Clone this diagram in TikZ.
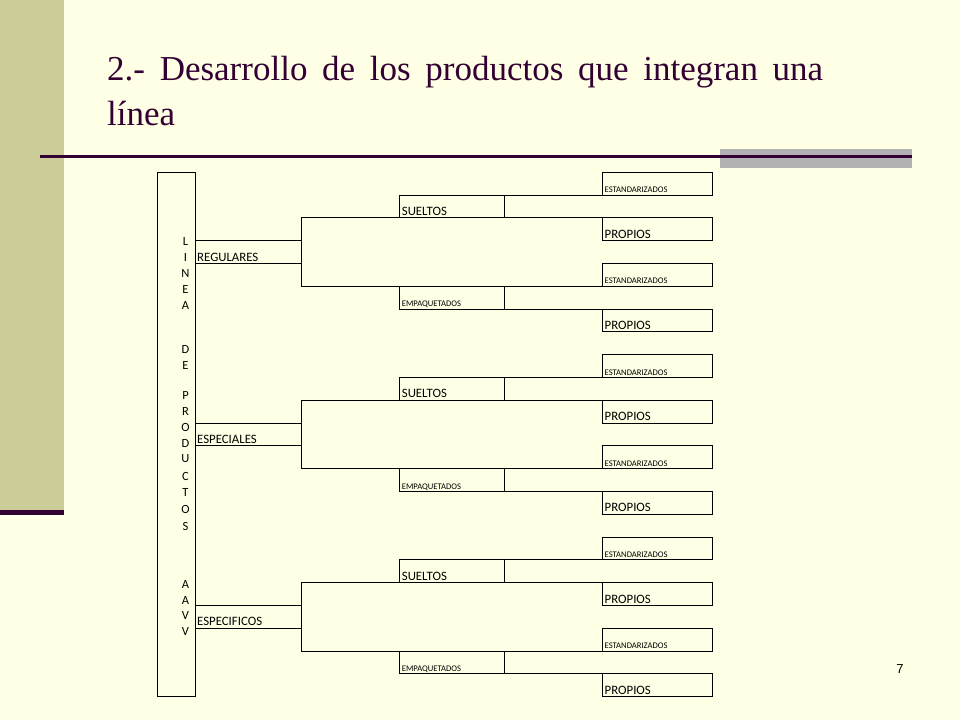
\documentclass[tikz,border=0pt]{standalone}
\usepackage{fontspec}
\setmainfont{Liberation Serif}
\newfontfamily\cellfont{Carlito}
\newfontfamily\numfont{Liberation Sans}
\usetikzlibrary{positioning}
\definecolor{slideBg}{RGB}{255,255,229}
\definecolor{bandOlive}{RGB}{204,204,153}
\definecolor{titlePurple}{RGB}{51,0,51}
\definecolor{barGray}{RGB}{178,178,178}
\tikzset{
    cell/.style={draw=black, line width=0.9pt},
    bigtext/.style={font=\cellfont\fontsize{12.8}{14}\selectfont, inner sep=0pt, anchor=base west},
    smalltext/.style={font=\cellfont\fontsize{8.6}{10}\selectfont, inner sep=0pt, anchor=base west},
    letter/.style={font=\cellfont\fontsize{12.5}{14}\selectfont, inner sep=0pt},
    titletext/.style={font=\fontsize{35}{45}\selectfont, text=titlePurple, inner sep=0pt, anchor=base west}
}

\begin{document}
\begin{tikzpicture}[x=1pt, y=-1pt]
                    % Slide background and left band
                    \useasboundingbox (0,0) rectangle (960,720);
                    \fill[slideBg] (0,0) rectangle (960,720);
                    \fill[bandOlive] (0,0) rectangle (64,510);
                    \fill[titlePurple] (0,510) rectangle (64,515);
                    
                    % Title and rule under it
                    \node[titletext] (titleA) at (107,80.5) {\hbox to 716pt{2.- Desarrollo de los productos que integran una}};
                    \node[titletext] (titleB) at ([yshift=-44.5pt]titleA.base west) {línea};
                    \fill[barGray] (720,149) rectangle (912,168);
                    \draw[titlePurple, line width=3pt] (40,156.5) -- (912,156.5);
                    
                    % Outer column with the vertical text
                    \draw[cell] (157.3,172.3) rectangle (195,696.7);
                    \foreach \ch/\yy in {L/241, I/257, N/273, E/289, A/305, D/349, E/365,
                                         P/395.5, R/411, O/427, D/443, U/459, C/476, T/492, O/509, S/526,
                                         A/584, A/600, V/615, V/631}
                        \node[letter] (ltr\yy) at (185.5,\yy) {\ch};
                    
                    % One block of rows per kind of line
                    \foreach \grp/\b in {REGULARES/0, ESPECIALES/8, ESPECIFICOS/16} {
                        \pgfmathsetmacro{\gshift}{\b*22.8}
                        \begin{scope}[yshift=-\gshift pt]
                            \foreach \r in {172.3, 217.9, 263.5, 309.1}
                                \draw[cell] (602.5,\r) rectangle (712.7,{\r+22.8});
                            \draw[cell] (399.7,217.9) -- (399.7,195.1) -- (712.7,195.1);
                            \draw[cell] (504.4,195.1) -- (504.4,217.9);
                            \draw[cell] (712.7,217.9) -- (301.7,217.9) -- (301.7,286.3) -- (712.7,286.3);
                            \draw[cell] (195,240.7) -- (301.7,240.7);
                            \draw[cell] (195,263.5) -- (301.7,263.5);
                            \draw[cell] (399.7,286.3) -- (399.7,309.1) -- (712.7,309.1);
                            \draw[cell] (504.4,286.3) -- (504.4,309.1);
                            
                            \node[smalltext] (estA\b) at (604.5,192.6) {ESTANDARIZADOS};
                            \node[bigtext] (suel\b) at (401.7,215.4) {SUELTOS};
                            \node[bigtext] (propA\b) at (604.5,238.2) {PROPIOS};
                            \node[bigtext] (cat\b) at (197,261) {\grp};
                            \node[smalltext] (estB\b) at (604.5,283.8) {ESTANDARIZADOS};
                            \node[smalltext] (emp\b) at (401.7,306.6) {EMPAQUETADOS};
                            \node[bigtext] (propB\b) at (604.5,329.4) {PROPIOS};
                        \end{scope}
                    }
                    
                    % Slide number
                    \node[font=\numfont\fontsize{13}{15}\selectfont, inner sep=0pt] (pagenum) at (900,669) {7};
                \end{tikzpicture}
\end{document}
